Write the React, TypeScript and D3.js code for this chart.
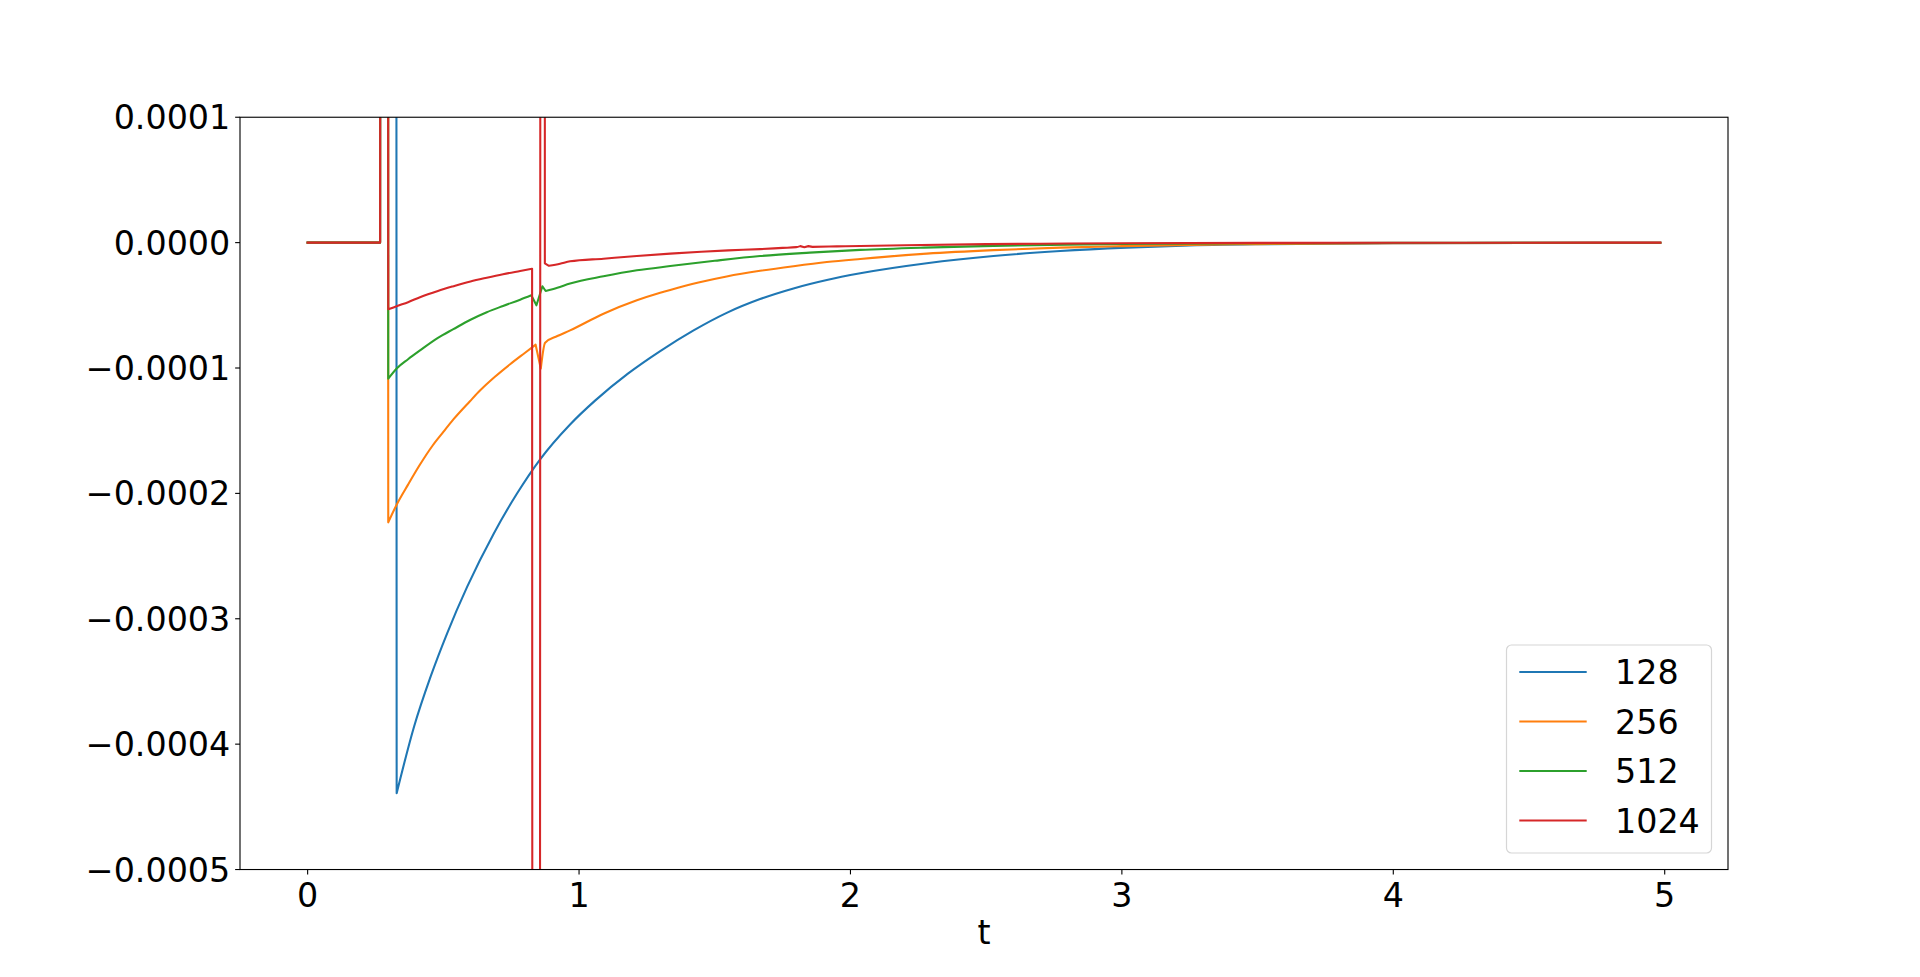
import React from 'react';
import * as d3 from 'd3';

const W = 1920;
const H = 977;

const xTicks = [0, 1, 2, 3, 4, 5];
const yTicks = [0.0001, 0, -0.0001, -0.0002, -0.0003, -0.0004, -0.0005];
const seriesNames = ['128', '256', '512', '1024'];
const seriesColors = ['#1f77b4', '#ff7f0e', '#2ca02c', '#d62728'];
const xLabel = 't';

// off-chart spike samples use ±1e-2
const t128 = [0, 0.267, 0.282, 0.312, 0.328, 0.392, 0.453, 0.514, 0.588, 0.686, 0.772, 0.856, 0.967, 1.059, 1.18, 1.299, 1.422, 1.544, 1.667, 1.79, 1.913, 2.036, 2.281, 2.527, 2.773, 3.018, 3.224, 3.5, 3.75, 4.0, 4.5, 4.984];
const v128 = [0, 0, 1e-2, 1e-2, -4.392e-4, -3.861e-4, -3.462e-4, -3.116e-4, -2.744e-4, -2.319e-4, -1.999e-4, -1.73e-4, -1.45e-4, -1.26e-4, -1.045e-4, -0.865e-4, -0.7e-4, -0.56e-4, -0.45e-4, -0.365e-4, -0.298e-4, -0.245e-4, -0.165e-4, -0.107e-4, -0.067e-4, -0.04e-4, -0.024e-4, -0.013e-4, -0.008e-4, -0.005e-4, -0.002e-4, -0.001e-4];

const t256 = [0, 0.267, 0.282, 0.297, 0.328, 0.37, 0.414, 0.46, 0.5, 0.537, 0.598, 0.635, 0.69, 0.746, 0.8, 0.84, 0.859, 0.875, 0.92, 0.967, 1.09, 1.213, 1.299, 1.336, 1.44, 1.544, 1.667, 1.79, 1.913, 2.036, 2.281, 2.527, 2.773, 3.0, 3.25, 3.5, 4.0, 4.5, 4.984];
const v256 = [0, 0, 1e-2, -2.231e-4, -2.09e-4, -1.93e-4, -1.77e-4, -1.62e-4, -1.51e-4, -1.41e-4, -1.265e-4, -1.18e-4, -1.07e-4, -0.97e-4, -0.88e-4, -0.814e-4, -1.005e-4, -0.798e-4, -0.745e-4, -0.7e-4, -0.567e-4, -0.46e-4, -0.4e-4, -0.377e-4, -0.318e-4, -0.27e-4, -0.225e-4, -0.188e-4, -0.155e-4, -0.13e-4, -0.088e-4, -0.06e-4, -0.04e-4, -0.028e-4, -0.018e-4, -0.012e-4, -0.005e-4, -0.002e-4, -0.001e-4];

const t512 = [0, 0.267, 0.282, 0.297, 0.33, 0.37, 0.414, 0.48, 0.537, 0.6, 0.66, 0.72, 0.783, 0.824, 0.843, 0.865, 0.877, 0.92, 0.967, 1.09, 1.213, 1.336, 1.5, 1.667, 1.85, 2.036, 2.27, 2.527, 2.8, 3.0, 3.5, 4.0, 4.5, 4.984];
const v512 = [0, 0, 1e-2, -1.085e-4, -1.0e-4, -0.93e-4, -0.86e-4, -0.76e-4, -0.69e-4, -0.615e-4, -0.555e-4, -0.505e-4, -0.455e-4, -0.42e-4, -0.5e-4, -0.348e-4, -0.386e-4, -0.36e-4, -0.327e-4, -0.269e-4, -0.221e-4, -0.187e-4, -0.145e-4, -0.107e-4, -0.08e-4, -0.058e-4, -0.04e-4, -0.026e-4, -0.016e-4, -0.011e-4, -0.005e-4, -0.002e-4, -0.001e-4, -0.0005e-4];

const t1024 = [0, 0.267, 0.282, 0.297, 0.33, 0.37, 0.414, 0.48, 0.537, 0.6, 0.66, 0.72, 0.783, 0.827, 0.842, 0.872, 0.874, 0.889, 0.93, 0.967, 1.09, 1.213, 1.336, 1.45, 1.55, 1.667, 1.75, 1.8, 1.815, 1.83, 1.845, 1.86, 1.95, 2.036, 2.2, 2.5, 2.8, 3.0, 3.5, 4.0, 4.5, 4.984];
const v1024 = [0, 0, 1e-2, -0.532e-4, -0.505e-4, -0.475e-4, -0.435e-4, -0.385e-4, -0.348e-4, -0.31e-4, -0.28e-4, -0.252e-4, -0.226e-4, -0.208e-4, -1e-2, 1e-2, -0.165e-4, -0.185e-4, -0.168e-4, -0.149e-4, -0.128e-4, -0.107e-4, -0.088e-4, -0.073e-4, -0.062e-4, -0.052e-4, -0.042e-4, -0.036e-4, -0.028e-4, -0.036e-4, -0.028e-4, -0.034e-4, -0.03e-4, -0.027e-4, -0.021e-4, -0.012e-4, -0.007e-4, -0.005e-4, -0.002e-4, -0.001e-4, -0.0005e-4, 0];

const seriesT = [t128, t256, t512, t1024];
const seriesV = [v128, v256, v512, v1024];

const L = 240, R = 1728, T = 117.24, B = 869.53;
const FONT = 'DejaVu Sans';
const FS = 33.33;

function buildPath(ts: number[], vs: number[], x: any, y: any): string {
  const pts: [number, number][] = ts.map((t, i) => [t, vs[i]]);
  const n = pts.length;
  const breaks = [0];
  for (let i = 1; i < n - 1; i++) {
    const d1 = pts[i][1] - pts[i - 1][1];
    const d2 = pts[i + 1][1] - pts[i][1];
    const spike = Math.abs(pts[i - 1][1]) > 1e-3 || Math.abs(pts[i][1]) > 1e-3 || Math.abs(pts[i + 1][1]) > 1e-3;
    if (d1 * d2 <= 0 || spike) breaks.push(i);
  }
  breaks.push(n - 1);
  const line = d3.line<[number, number]>().x(d => x(d[0])).y(d => y(d[1])).curve(d3.curveMonotoneX);
  let out = '';
  for (let k = 0; k < breaks.length - 1; k++) {
    const seg = pts.slice(breaks[k], breaks[k + 1] + 1);
    let p = line(seg) || '';
    if (k > 0) p = p.replace(/^M/, 'L');
    out += p;
  }
  return out;
}

export default function App() {
  const xMax = 4.984;
  const x = d3.scaleLinear().domain([-0.05 * xMax, 1.05 * xMax]).range([L, R]);
  const y = d3.scaleLinear().domain([-0.0005, 0.0001]).range([B, T]);
  const fmt = d3.format('.4f');

  const legX = 1506.5, legY = 645, legW = 205, legH = 208;
  const legRow0 = 672, legStep = 49.5;

  return (
    <svg width={W} height={H} style={{ position: 'absolute', left: 0, top: 0, display: 'block', background: '#fff' }}
      fontFamily={FONT}>
      <defs>
        <clipPath id="plotclip">
          <rect x={L} y={T} width={R - L} height={B - T} />
        </clipPath>
      </defs>
      <rect x={0} y={0} width={W} height={H} fill="#fff" />
      <g clipPath="url(#plotclip)">
        {seriesT.map((ts, i) => (
          <path key={i} d={buildPath(ts, seriesV[i], x, y)} fill="none" stroke={seriesColors[i]}
            strokeWidth={2.08} strokeLinejoin="round" strokeLinecap="square" />
        ))}
      </g>
      <rect x={L} y={T} width={R - L} height={B - T} fill="none" stroke="#000" strokeWidth={1.11} />
      {xTicks.map(t => (
        <g key={t}>
          <line x1={x(t)} x2={x(t)} y1={B} y2={B + 4.86} stroke="#000" strokeWidth={1.11} />
          <text x={x(t)} y={B + 37.5} textAnchor="middle" fontSize={FS} fill="#000">{t}</text>
        </g>
      ))}
      {yTicks.map(v => (
        <g key={v}>
          <line x1={L - 4.86} x2={L} y1={y(v)} y2={y(v)} stroke="#000" strokeWidth={1.11} />
          <text x={L - 9.72} y={y(v) + 12.1} textAnchor="end" fontSize={FS} fill="#000">{fmt(v)}</text>
        </g>
      ))}
      <text x={(L + R) / 2} y={944} textAnchor="middle" fontSize={FS} fill="#000">{xLabel}</text>
      <rect x={legX} y={legY} width={legW} height={legH} rx={5} ry={5} fill="#fff" fillOpacity={0.8}
        stroke="#d6d6d6" strokeWidth={1.2} />
      {seriesNames.map((name, i) => (
        <g key={name}>
          <line x1={1519.3} x2={1586.7} y1={legRow0 + i * legStep} y2={legRow0 + i * legStep}
            stroke={seriesColors[i]} strokeWidth={2.08} />
          <text x={1615} y={legRow0 + i * legStep + 12.1} fontSize={FS} fill="#000">{name}</text>
        </g>
      ))}
    </svg>
  );
}
